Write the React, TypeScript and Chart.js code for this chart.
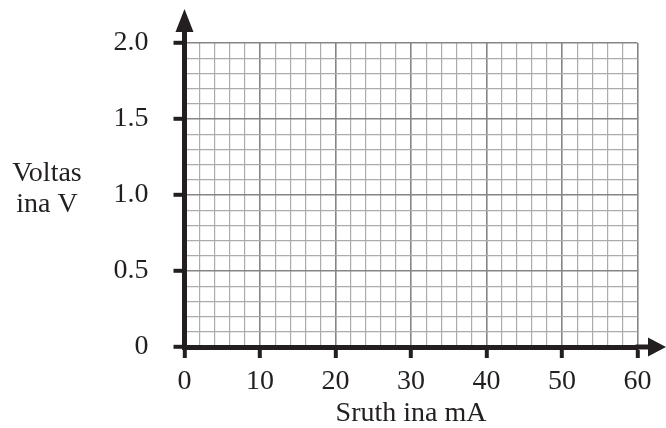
import React, { useEffect, useRef } from 'react';
import { Chart, registerables } from 'chart.js';

Chart.register(...registerables);

// ---- data ----
const xTitle = 'Sruth ina mA';
const yTitleLines = ['Voltas', 'ina V'];
const xMin = 0;
const xMax = 60;
const xMinorStep = 2;
const yMin = 0;
const yMax = 2;
const yMinorStep = 0.1;
const xMajorValues = [0, 10, 20, 30, 40, 50, 60];
const xTickLabels = ['0', '10', '20', '30', '40', '50', '60'];
const yMajorValues = [0, 0.5, 1, 1.5, 2];
const yTickLabels = ['0', '0.5', '1.0', '1.5', '2.0'];
const seriesPoints: { x: number; y: number }[] = [];

// ---- styles ----
const INK = '#231f20';
const MAJOR = '#858585';
const MINOR = '#acacac';
const FONT = "'Liberation Serif', 'Times New Roman', serif";

const majorIndex = (v: number, majors: number[]) =>
  majors.findIndex((m) => Math.abs(m - v) < 1e-6);

const arrowsPlugin = {
  id: 'arrowsAndYTitle',
  afterDraw(chart: any) {
    const { ctx, chartArea } = chart;
    const xs = chart.scales.x;
    const ys = chart.scales.y;
    const x0 = xs.getPixelForValue(xMin);
    const y0 = ys.getPixelForValue(yMin);
    ctx.save();
    ctx.strokeStyle = INK;
    ctx.fillStyle = INK;
    ctx.lineWidth = 5;
    // y axis extension + arrow
    ctx.beginPath();
    ctx.moveTo(x0, chartArea.top + 2);
    ctx.lineTo(x0, 28);
    ctx.stroke();
    ctx.beginPath();
    ctx.moveTo(x0, 9);
    ctx.lineTo(x0 - 9, 32);
    ctx.lineTo(x0 + 9, 32);
    ctx.closePath();
    ctx.fill();
    // x axis extension + arrow
    ctx.beginPath();
    ctx.moveTo(chartArea.right - 2, y0);
    ctx.lineTo(652, y0);
    ctx.stroke();
    ctx.beginPath();
    ctx.moveTo(666, y0);
    ctx.lineTo(648, y0 - 9.5);
    ctx.lineTo(648, y0 + 9.5);
    ctx.closePath();
    ctx.fill();
    // y title (horizontal, two lines)
    ctx.font = `28px ${FONT}`;
    ctx.textAlign = 'center';
    ctx.textBaseline = 'alphabetic';
    ctx.fillText(yTitleLines[0], 47, 181);
    ctx.fillText(yTitleLines[1], 47, 212);
    ctx.restore();
  },
};

export default function App() {
  const ref = useRef<HTMLCanvasElement | null>(null);

  useEffect(() => {
    if (!ref.current) return;
    const gridOpts = (majors: number[]) => ({
      color: (c: any) => (majorIndex(c.tick.value, majors) >= 0 ? MAJOR : MINOR),
      lineWidth: (c: any) => (majorIndex(c.tick.value, majors) >= 0 ? 1.6 : 1.2),
      tickColor: (c: any) =>
        majorIndex(c.tick.value, majors) >= 0 ? INK : 'rgba(0,0,0,0)',
      tickWidth: 4,
      tickLength: 11,
      drawTicks: true,
      drawOnChartArea: true,
    });
    const chart = new Chart(ref.current, {
      type: 'scatter',
      data: {
        datasets: [
          {
            label: 'data',
            data: seriesPoints,
            pointRadius: 3,
            backgroundColor: INK,
          },
        ],
      },
      plugins: [arrowsPlugin],
      options: {
        animation: false,
        responsive: false,
        layout: { padding: { left: 0, right: 28.5, top: 43, bottom: 0 } },
        plugins: {
          legend: { display: false },
          tooltip: { enabled: false },
        },
        scales: {
          x: {
            type: 'linear',
            position: 'bottom',
            min: xMin,
            max: xMax,
            ticks: {
              stepSize: xMinorStep,
              autoSkip: false,
              maxRotation: 0,
              minRotation: 0,
              padding: 7,
              color: INK,
              font: { family: FONT, size: 28 },
              callback: (v: any) => {
                const i = majorIndex(Number(v), xMajorValues);
                return i >= 0 ? xTickLabels[i] : '';
              },
            },
            grid: gridOpts(xMajorValues) as any,
            border: { display: true, color: INK, width: 5 },
            title: {
              display: true,
              text: xTitle,
              color: INK,
              font: { family: FONT, size: 28, lineHeight: 1 },
              padding: { top: 0, bottom: 0 },
            },
            afterFit: (s: any) => {
              s.height = 81;
            },
          },
          y: {
            type: 'linear',
            position: 'left',
            min: yMin,
            max: yMax,
            ticks: {
              stepSize: yMinorStep,
              autoSkip: false,
              padding: 25,
              color: INK,
              font: { family: FONT, size: 28 },
              callback: (v: any) => {
                const i = majorIndex(Number(v), yMajorValues);
                return i >= 0 ? yTickLabels[i] : '';
              },
            },
            grid: gridOpts(yMajorValues) as any,
            border: { display: true, color: INK, width: 5 },
            afterFit: (s: any) => {
              s.width = 184.5;
            },
          },
        },
      } as any,
    });
    return () => chart.destroy();
  }, []);

  return (
    <div style={{ position: 'fixed', left: 0, top: 0, width: 666, height: 428, background: '#fff' }}>
      <canvas ref={ref} width={666} height={428} style={{ display: 'block', width: 666, height: 428 }} />
    </div>
  );
}
